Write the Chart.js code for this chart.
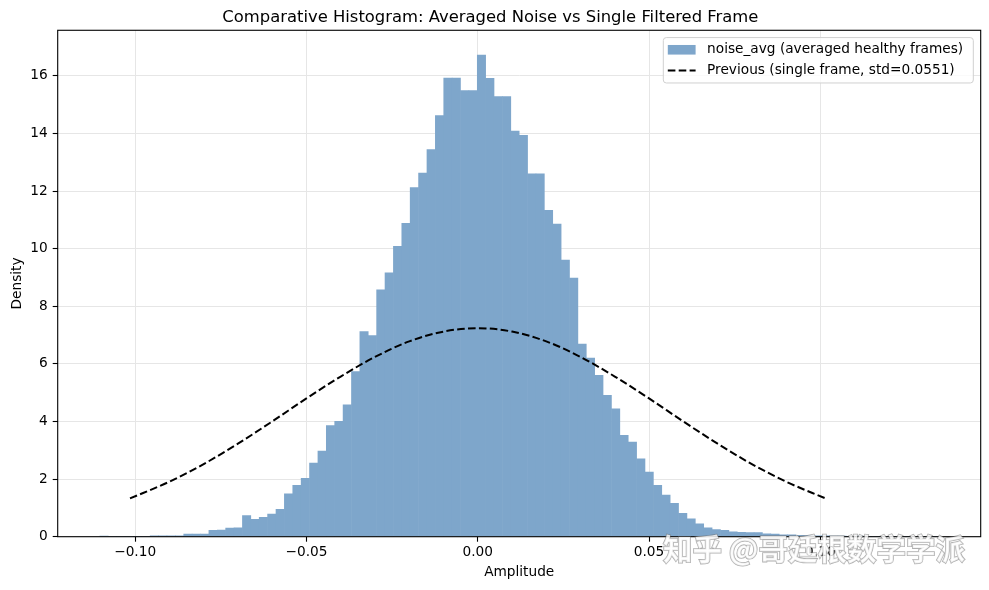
<!DOCTYPE html>
<html>
<head>
<meta charset="utf-8">
<script src="https://cdn.jsdelivr.net/npm/chart.js@4.4.1/dist/chart.umd.min.js"></script>
<style>
  html, body { margin: 0; padding: 0; background: #fff; }
  #wrap { width: 989px; height: 590px; position: relative; }
</style>
</head>
<body>
<div id="wrap"><canvas id="c" width="989" height="590"></canvas></div>
<script>
// ---- data ----
const titleText = 'Comparative Histogram: Averaged Noise vs Single Filtered Frame';
const xLabel = 'Amplitude';
const yLabel = 'Density';
const histLabel = 'noise_avg (averaged healthy frames)';
const curveLabel = 'Previous (single frame, std=0.0551)';
const watermark = '知乎 @哥廷根数学学派';

// histogram: 100 equal bins spanning this range
const histRange = [-0.1103, 0.1345];
const density = [
  0.02, 0, 0, 0, 0.01, 0.01, 0.03, 0.03, 0.03, 0.03,
  0.09, 0.09, 0.09, 0.22, 0.23, 0.30, 0.31, 0.73, 0.60, 0.67,
  0.79, 0.95, 1.49, 1.78, 2.03, 2.56, 2.97, 3.86, 4.01, 4.58,
  5.73, 7.12, 6.98, 8.57, 9.16, 10.08, 10.88, 12.12, 12.62, 13.44,
  14.62, 15.92, 15.92, 15.49, 15.49, 16.72, 15.91, 15.28, 15.28, 14.08,
  13.93, 12.60, 12.60, 11.33, 10.85, 9.60, 8.98, 6.69, 6.20, 5.60,
  4.91, 4.44, 3.52, 3.29, 2.70, 2.24, 1.78, 1.45, 1.16, 0.81,
  0.62, 0.45, 0.31, 0.25, 0.22, 0.17, 0.15, 0.14, 0.14, 0.10,
  0.09, 0.07, 0.07, 0.05, 0.04, 0.03, 0.03, 0.02, 0.02, 0.01,
  0.02, 0.01, 0, 0.01, 0.01, 0, 0.01, 0, 0, 0.01
];

// dashed reference curve
const curveX = [-0.1015, -0.09, -0.08, -0.07, -0.06, -0.05, -0.04, -0.03, -0.02, -0.01, 0,
                0.01, 0.02, 0.03, 0.04, 0.05, 0.06, 0.07, 0.08, 0.09, 0.1015];
const curveY = [1.33, 1.91, 2.52, 3.23, 4.00, 4.80, 5.56, 6.24, 6.78, 7.12, 7.24,
                7.12, 6.78, 6.24, 5.56, 4.80, 4.00, 3.23, 2.52, 1.91, 1.33];

// axes
const xMin = -0.1226, xMax = 0.1468, xStep = 0.05;
const yMin = 0, yMax = 17.58, yStep = 2;

// ---- build library structures ----
const nBins = density.length;
const binW = (histRange[1] - histRange[0]) / nBins;
const histData = density.map((d, i) => ({ x: histRange[0] + (i + 0.5) * binW, y: d }));
const curveData = curveX.map((x, i) => ({ x: x, y: curveY[i] }));

const FONT = 'DejaVu Sans';
Chart.defaults.font.family = FONT;
Chart.defaults.font.size = 13.7;
Chart.defaults.color = '#000';

const BAR_COLOR = 'rgb(126,166,203)';

function fmtX(v) {
  const a = Math.abs(v).toFixed(2);
  return (v < -1e-9 ? '\u2212' : '') + a;
}

const framePlugin = {
  id: 'frame',
  afterDatasetsDraw(chart) {
    const { ctx, chartArea: a } = chart;
    ctx.save();
    ctx.strokeStyle = '#000';
    ctx.lineWidth = 1.1;
    ctx.strokeRect(a.left, a.top, a.right - a.left, a.bottom - a.top);
    ctx.restore();
  }
};

const legendPlugin = {
  id: 'mplLegend',
  afterDraw(chart) {
    const { ctx, chartArea: a } = chart;
    ctx.save();
    const bx = a.right - 7.4, by = a.top + 7.3;
    const w = 310, h = 45.4;
    const x0 = bx - w;
    // box
    ctx.beginPath();
    const r = 3;
    ctx.moveTo(x0 + r, by);
    ctx.lineTo(x0 + w - r, by);
    ctx.arcTo(x0 + w, by, x0 + w, by + r, r);
    ctx.lineTo(x0 + w, by + h - r);
    ctx.arcTo(x0 + w, by + h, x0 + w - r, by + h, r);
    ctx.lineTo(x0 + r, by + h);
    ctx.arcTo(x0, by + h, x0, by + h - r, r);
    ctx.lineTo(x0, by + r);
    ctx.arcTo(x0, by, x0 + r, by, r);
    ctx.closePath();
    ctx.fillStyle = 'rgba(255,255,255,0.8)';
    ctx.fill();
    ctx.strokeStyle = '#d0d0d0';
    ctx.lineWidth = 1;
    ctx.stroke();
    // entries
    const hx = x0 + 4.5, hw = 27.8;
    const row1 = by + 12.2, row2 = by + 32.8;
    ctx.fillStyle = BAR_COLOR;
    ctx.fillRect(hx, row1 - 4.8, hw, 9.6);
    ctx.beginPath();
    ctx.setLineDash([7.6, 3.3]);
    ctx.strokeStyle = '#000';
    ctx.lineWidth = 2;
    ctx.moveTo(hx, row2);
    ctx.lineTo(hx + hw, row2);
    ctx.stroke();
    ctx.setLineDash([]);
    ctx.fillStyle = '#000';
    ctx.font = '13.7px "' + FONT + '"';
    ctx.textAlign = 'left';
    ctx.textBaseline = 'middle';
    ctx.fillText(histLabel, hx + hw + 11.5, row1);
    ctx.fillText(curveLabel, hx + hw + 11.5, row2);
    ctx.restore();
  }
};

const watermarkPlugin = {
  id: 'wm',
  afterDraw(chart) {
    const { ctx } = chart;
    ctx.save();
    let size = 30;
    ctx.font = 'bold ' + size + 'px "Noto Sans CJK SC"';
    const mw = ctx.measureText(watermark).width;
    size = size * 302 / mw;
    ctx.font = 'bold ' + size.toFixed(1) + 'px "Noto Sans CJK SC"';
    ctx.textAlign = 'left';
    ctx.textBaseline = 'middle';
    ctx.lineWidth = 1.6;
    ctx.strokeStyle = 'rgba(110,110,110,0.55)';
    ctx.strokeText(watermark, 663, 549);
    ctx.fillStyle = 'rgba(255,255,255,0.82)';
    ctx.fillText(watermark, 663, 549);
    ctx.restore();
  }
};

new Chart(document.getElementById('c'), {
  type: 'bar',
  data: {
    datasets: [
      {
        type: 'line',
        label: curveLabel,
        data: curveData,
        borderColor: '#000',
        borderWidth: 2,
        borderDash: [7.6, 3.3],
        pointRadius: 0,
        fill: false,
        cubicInterpolationMode: 'monotone',
        order: 0
      },
      {
        type: 'bar',
        label: histLabel,
        data: histData,
        backgroundColor: BAR_COLOR,
        borderWidth: 0,
        barPercentage: 1,
        categoryPercentage: 1,
        inflateAmount: 0.3,
        order: 1
      }
    ]
  },
  options: {
    responsive: false,
    animation: false,
    devicePixelRatio: 1,
    layout: { padding: { left: 0, right: 8.3, top: 0, bottom: 0 } },
    plugins: {
      legend: { display: false },
      tooltip: { enabled: false },
      title: {
        display: true,
        text: titleText,
        font: { size: 16.4, weight: 'normal', family: FONT },
        color: '#000',
        padding: { top: 8, bottom: 2.6 }
      }
    },
    scales: {
      x: {
        type: 'linear',
        min: xMin, max: xMax,
        offset: false,
        afterFit(s) { s.height = 53.3; },
        ticks: {
          stepSize: xStep,
          includeBounds: false,
          padding: 3,
          maxRotation: 0,
          autoSkip: false,
          callback: (v) => fmtX(v)
        },
        grid: { offset: false, color: '#e6e6e6', lineWidth: 1, tickLength: 5, tickColor: '#000', tickWidth: 1.1 },
        border: { display: false },
        title: { display: true, text: xLabel, padding: { top: 0, bottom: 9.2 }, font: { size: 13.7 } }
      },
      y: {
        type: 'linear',
        min: yMin, max: yMax,
        afterFit(s) { s.width = 57.7; },
        ticks: {
          stepSize: yStep,
          includeBounds: false,
          padding: 5,
          callback: (v) => String(v)
        },
        grid: { offset: false, color: '#e6e6e6', lineWidth: 1, tickLength: 5, tickColor: '#000', tickWidth: 1.1 },
        border: { display: false },
        title: { display: true, text: yLabel, padding: { top: 9, bottom: 0 }, font: { size: 13.7 } }
      }
    }
  },
  plugins: [framePlugin, legendPlugin, watermarkPlugin]
});
</script>
</body>
</html>
